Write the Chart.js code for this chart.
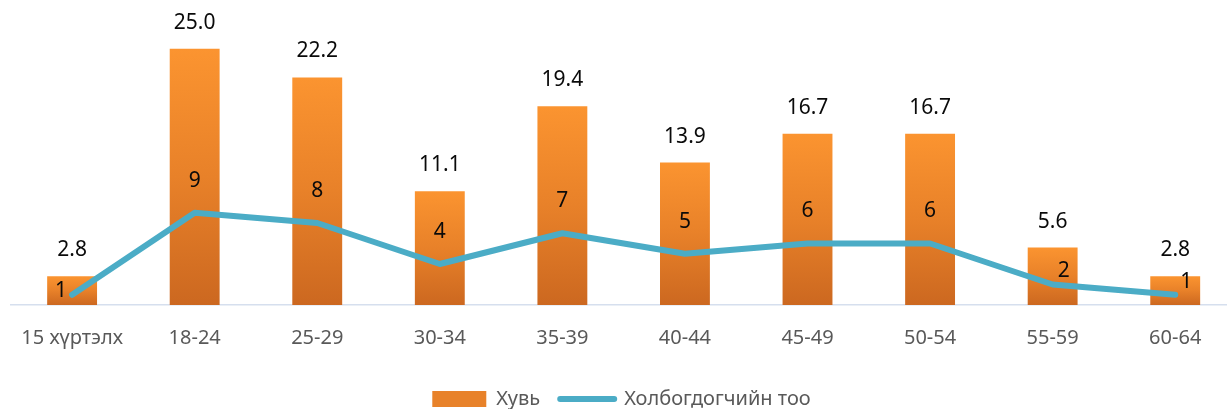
<!DOCTYPE html>
<html>
<head>
<meta charset="utf-8">
<script src="https://cdn.jsdelivr.net/npm/chart.js@4/dist/chart.umd.min.js"></script>
<style>
  html, body { margin: 0; padding: 0; background: #fff; overflow: hidden; }
  #wrap { width: 1227px; height: 409px; overflow: hidden; }
</style>
</head>
<body>
<div id="wrap"><canvas id="myChart" width="1254" height="419"></canvas></div>
<script>
// age groups
const categories = ['15 хүртэлх', '18-24', '25-29', '30-34', '35-39', '40-44', '45-49', '50-54', '55-59', '60-64'];
// share, percent
const shares = [2.8, 25.0, 22.2, 11.1, 19.4, 13.9, 16.7, 16.7, 5.6, 2.8];
// number of people
const counts = [1, 9, 8, 4, 7, 5, 6, 6, 2, 1];
const seriesNames = ['Хувь', 'Холбогдогчийн тоо'];

const FONT = '"Noto Sans", "DejaVu Sans", sans-serif';

// orange gradient per bar, light on top
function barFill(c) {
  const chart = c.chart;
  const y = chart.scales.y;
  if (!y || c.dataIndex === undefined) return '#E8822A';
  const top = y.getPixelForValue(shares[c.dataIndex]);
  const base = y.getPixelForValue(0);
  if (!isFinite(top) || !isFinite(base) || top === base) return '#E8822A';
  const g = chart.ctx.createLinearGradient(0, top, 0, base);
  g.addColorStop(0, '#FB9430');
  g.addColorStop(0.5, '#E88129');
  g.addColorStop(1, '#CC6820');
  return g;
}

const valueLabels = {
  id: 'valueLabels',
  afterDatasetsDraw(chart) {
    const ctx = chart.ctx;
    const bars = chart.getDatasetMeta(0).data;
    const pts = chart.getDatasetMeta(1).data;
    ctx.save();
    ctx.font = '21px ' + FONT;
    ctx.fillStyle = '#0A0A0A';
    ctx.textAlign = 'center';
    ctx.textBaseline = 'middle';
    bars.forEach((bar, i) => {
      ctx.fillText(shares[i].toFixed(1), bar.x, bar.y - 26);
    });
    pts.forEach((pt, i) => {
      let x = pt.x, y = pt.y - 32;
      // short bars: keep the count label inside the bar, beside the line
      if (y < bars[i].y + 10) {
        const next = pts[i + 1];
        if (next && next.y < pt.y - 20) { x = pt.x - 11; y = pt.y - 4; }
        else { x = pt.x + 11; y = pt.y - 13; }
      }
      ctx.fillText(String(counts[i]), x, y);
    });
    ctx.restore();
  }
};

const ctx = document.getElementById('myChart').getContext('2d');
const myChart = new Chart(ctx, {
  data: {
    labels: categories,
    datasets: [
      {
        type: 'bar',
        label: seriesNames[0],
        data: shares,
        backgroundColor: barFill,
        barPercentage: 0.407,
        categoryPercentage: 1,
        order: 2
      },
      {
        type: 'line',
        label: seriesNames[1],
        data: counts,
        borderColor: '#4BACC6',
        backgroundColor: '#4BACC6',
        borderWidth: 6,
        pointRadius: 0,
        borderJoinStyle: 'round',
        borderCapStyle: 'round',
        tension: 0,
        fill: false,
        order: 1
      }
    ]
  },
  options: {
    responsive: false,
    animation: false,
    layout: { padding: { top: 18, left: 6.5, right: 17.5, bottom: 0 } },
    scales: {
      x: {
        grid: { display: false, drawTicks: false },
        border: { display: true, color: '#D6DFEE', width: 1.5 },
        ticks: { color: '#595959', font: { family: FONT, size: 20 }, padding: 21, maxRotation: 0, autoSkip: false },
        afterFit(scale) { scale.height = 64; }
      },
      y: {
        display: false,
        min: 0,
        max: 28
      }
    },
    plugins: {
      tooltip: { enabled: false },
      legend: {
        position: 'bottom',
        labels: {
          color: '#595959',
          font: { family: FONT, size: 20 },
          usePointStyle: true,
          pointStyleWidth: 54,
          boxHeight: 16,
          padding: 20,
          generateLabels(chart) {
            const items = Chart.defaults.plugins.legend.labels.generateLabels(chart);
            items.forEach(it => {
              if (it.datasetIndex === 0) {
                it.pointStyle = 'rect';
                it.fillStyle = '#E8822A';
                it.strokeStyle = '#E8822A';
                it.lineWidth = 0;
              } else {
                it.pointStyle = 'line';
                it.strokeStyle = '#4BACC6';
                it.lineWidth = 6;
                it.lineCap = 'round';
              }
            });
            return items.sort((a, b) => a.datasetIndex - b.datasetIndex);
          }
        }
      }
    }
  },
  plugins: [valueLabels]
});
</script>
</body>
</html>
